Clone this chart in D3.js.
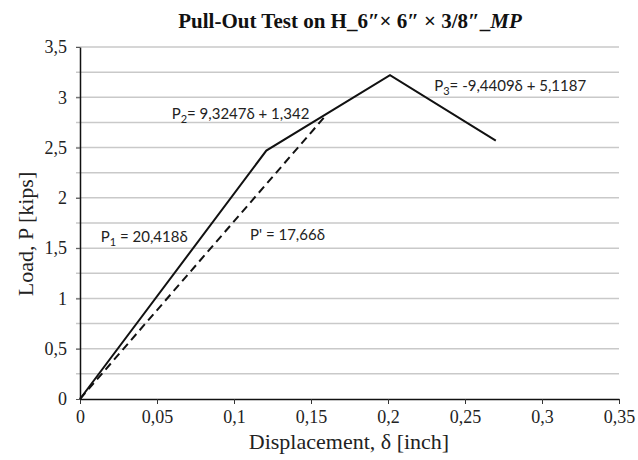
<!DOCTYPE html>
<html>
<head>
<meta charset="utf-8">
<script src="https://cdn.jsdelivr.net/npm/d3@7"></script>
<style>
  html, body { margin: 0; padding: 0; background: #fff; }
  svg { display: block; }
</style>
</head>
<body>
<svg id="chart" width="638" height="460"></svg>
<script>
// Load–displacement curve (solid), measured segments
const displacement = [0, 0.121, 0.2013, 0.27];
const load = [0, 2.47, 3.219, 2.57];

// Secant stiffness line P' (dashed)
const secantDisp = [0, 0.16];
const secantLoad = [0, 2.826];

// Axis ticks
const xTicks = [0, 0.05, 0.1, 0.15, 0.2, 0.25, 0.3, 0.35];
const yTicks = [0, 0.5, 1, 1.5, 2, 2.5, 3, 3.5];
const yGrid = d3.range(0.25, 3.5001, 0.25);

// Equation annotations: baseline anchor in data space
const eqLabels = [
  { p: "P", sub: "1", rest: " = 20,418δ", x: 0.0135, y: 1.565 },
  { p: "P", sub: "2", rest: "= 9,3247δ + 1,342", x: 0.0595, y: 2.78 },
  { p: "P' = 17,66δ", sub: null, rest: "", x: 0.1104, y: 1.58 },
  { p: "P", sub: "3", rest: "= -9,4409δ + 5,1187", x: 0.230, y: 3.065 }
];

const fmt = v => String(v).replace(".", ",");
const serif = "'Liberation Serif', 'Times New Roman', serif";

const svg = d3.select("#chart");
const margin = { left: 80, right: 19, top: 47, bottom: 61 };
const W = 638, H = 460;

const x = d3.scaleLinear().domain([0, 0.35]).range([margin.left, W - margin.right]);
const y = d3.scaleLinear().domain([0, 3.5]).range([H - margin.bottom, margin.top]);

// Horizontal gridlines
svg.append("g")
  .selectAll("line")
  .data(yGrid)
  .join("line")
  .attr("x1", x(0) - 4)
  .attr("x2", x(0.35))
  .attr("y1", d => y(d))
  .attr("y2", d => y(d))
  .attr("stroke", "#c9c9c9")
  .attr("stroke-width", 1.5);

// X axis
const xAxis = svg.append("g")
  .attr("transform", `translate(0,${y(0)})`)
  .call(d3.axisBottom(x).tickValues(xTicks).tickFormat(fmt).tickSize(5).tickSizeOuter(0));
xAxis.select(".domain").attr("stroke", "#111").attr("stroke-width", 1.5);
xAxis.selectAll(".tick line").attr("stroke", "#333").attr("stroke-width", 1);
xAxis.selectAll("text")
  .attr("font-family", serif)
  .attr("font-size", 18)
  .attr("fill", "#222")
  .attr("y", 11)
  .attr("dy", "0.71em");

// Y axis
const yAxis = svg.append("g")
  .attr("transform", `translate(${x(0)},0)`)
  .call(d3.axisLeft(y).tickValues(yTicks).tickFormat(fmt).tickSize(4).tickSizeOuter(0));
yAxis.select(".domain").attr("stroke", "#111").attr("stroke-width", 1.5);
yAxis.selectAll(".tick line").attr("stroke", "#555").attr("stroke-width", 1);
yAxis.selectAll("text")
  .attr("font-family", serif)
  .attr("font-size", 18)
  .attr("fill", "#222")
  .attr("x", -13);

// Curves
const line = d3.line().x(d => x(d[0])).y(d => y(d[1]));

svg.append("path")
  .datum(secantDisp.map((d, i) => [d, secantLoad[i]]))
  .attr("d", line)
  .attr("fill", "none")
  .attr("stroke", "#111")
  .attr("stroke-width", 2)
  .attr("stroke-dasharray", "8,5");

svg.append("path")
  .datum(displacement.map((d, i) => [d, load[i]]))
  .attr("d", line)
  .attr("fill", "none")
  .attr("stroke", "#111")
  .attr("stroke-width", 2)
  .attr("stroke-linejoin", "miter");

// Equation labels
const eq = svg.append("g")
  .attr("font-family", "Lato, 'Open Sans', sans-serif")
  .attr("font-size", 15)
  .attr("fill", "#222");
eqLabels.forEach(l => {
  const t = eq.append("text").attr("x", x(l.x)).attr("y", y(l.y));
  t.append("tspan").attr("fill", "#222").text(l.p);
  if (l.sub) {
    t.append("tspan").attr("fill", "#222").text(l.sub).attr("font-size", 11).attr("dy", 4);
    t.append("tspan").attr("fill", "#222").text(l.rest).attr("dy", -4);
  }
});

// Title
const title = svg.append("text")
  .attr("x", 350)
  .attr("y", 28)
  .attr("text-anchor", "middle")
  .attr("font-family", serif)
  .attr("font-weight", "bold")
  .attr("font-size", 21)
  .attr("fill", "#111");
title.append("tspan").text("Pull-Out Test on H_6″× 6″ × 3/8″_");
title.append("tspan").text("MP").attr("font-style", "italic");

// Axis titles
svg.append("text")
  .attr("x", 349)
  .attr("y", 449)
  .attr("text-anchor", "middle")
  .attr("font-family", serif)
  .attr("font-size", 22)
  .attr("fill", "#222")
  .text("Displacement, δ [inch]");

svg.append("text")
  .attr("transform", "translate(33,234) rotate(-90)")
  .attr("text-anchor", "middle")
  .attr("font-family", serif)
  .attr("font-size", 22)
  .attr("fill", "#222")
  .text("Load, P [kips]");
</script>
</body>
</html>
